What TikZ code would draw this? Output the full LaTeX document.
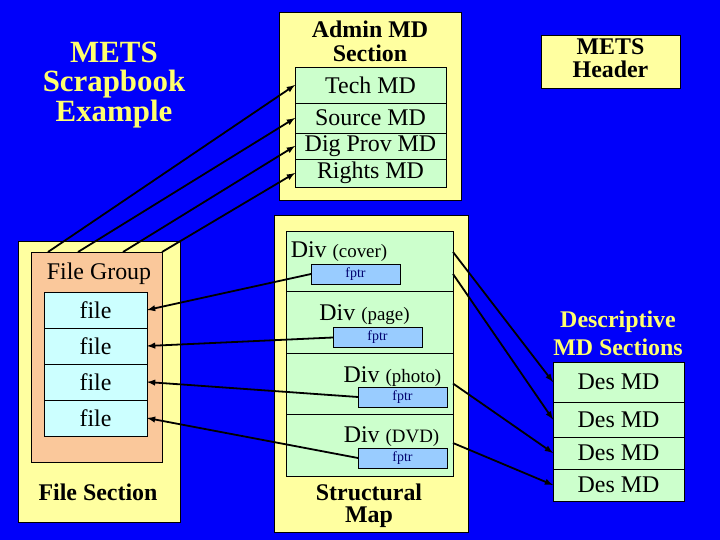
\documentclass[tikz,border=0pt]{standalone}
\usepackage{fontspec}
\setmainfont{Liberation Serif}
\usepackage{tikz}
\usetikzlibrary{arrows}

\definecolor{bgblue}{RGB}{0,0,250}
\definecolor{paleyellow}{RGB}{255,255,160}
\definecolor{titleyellow}{RGB}{255,255,110}
\definecolor{mdgreen}{RGB}{204,255,204}
\definecolor{filecyan}{RGB}{204,255,255}
\definecolor{grouporange}{RGB}{250,200,155}
\definecolor{fptrblue}{RGB}{153,204,255}
\definecolor{fptrtext}{RGB}{0,0,110}

\begin{document}
\begin{tikzpicture}[x=1bp,y=-1bp,
    box/.style={draw=black, line width=0.6bp, inner sep=0pt, outer sep=0pt},
    yellowbox/.style={box, fill=paleyellow},
    greenrow/.style={box, fill=mdgreen, font=\fontsize{24}{26}\selectfont},
    filerow/.style={box, fill=filecyan, minimum width=103bp, minimum height=36bp, font=\fontsize{24}{26}\selectfont},
    fptrbox/.style={box, fill=fptrblue, minimum width=89bp, minimum height=20bp, text=fptrtext, font=\fontsize{14}{15}\selectfont},
    boldlabel/.style={align=center, inner sep=0pt, font=\bfseries\fontsize{24}{23}\selectfont},
    plainlabel/.style={inner sep=0pt, anchor=base, font=\fontsize{24}{26}\selectfont},
    link/.style={line width=1.8bp, draw=black, -latex}]

	% Background
	\fill[bgblue] (0,0) rectangle (720,540);
	\useasboundingbox (0,0) rectangle (720,540);

	% Title
	\node[align=center, inner sep=0pt, text=titleyellow, font=\bfseries\fontsize{31}{30}\selectfont] (title) at (114,85) {METS\\Scrapbook\\Example};

	% Admin MD section
	\node[yellowbox, minimum width=182bp, minimum height=188bp] (adminsec) at (370,106) {};
	\node[boldlabel, font=\bfseries\fontsize{24}{24}\selectfont] (adminlabel) at (370,41) {Admin MD\\Section};
	\node[greenrow, minimum width=151bp, minimum height=36bp] (techmd) at (370.5,85) {Tech MD};
	\node[greenrow, minimum width=151bp, minimum height=30bp] (sourcemd) at (370.5,118) {Source MD};
	\node[greenrow, minimum width=151bp, minimum height=26bp] (digprovmd) at (370.5,146) {Dig Prov MD};
	\node[greenrow, minimum width=151bp, minimum height=28bp] (rightsmd) at (370.5,173) {Rights MD};

	% METS header
	\node[yellowbox, minimum width=139bp, minimum height=53bp] (header) at (610.5,61.5) {};
	\node[boldlabel] (headerlabel) at (610.5,58.5) {METS\\Header};

	% File section
	\node[yellowbox, minimum width=162bp, minimum height=281bp] (filesec) at (99,381.5) {};
	\node[box, fill=grouporange, minimum width=131bp, minimum height=210bp] (filegroup) at (96.5,357) {};
	\node[plainlabel] (grouplabel) at (99,280) {File Group};
	\foreach \i/\y in {1/310,2/346,3/382,4/418}
		\node[filerow] (file\i) at (95.5,\y) {file};
	\node[boldlabel, anchor=base] (filesecl) at (98,500) {File Section};

	% Structural map
	\node[yellowbox, minimum width=194bp, minimum height=317bp] (structmap) at (371,373.5) {};
	\node[greenrow, minimum width=167bp, minimum height=60bp] (divcover) at (369.5,261) {};
	\node[greenrow, minimum width=167bp, minimum height=62bp] (divpage) at (369.5,322) {};
	\node[greenrow, minimum width=167bp, minimum height=61bp] (divphoto) at (369.5,383.5) {};
	\node[greenrow, minimum width=167bp, minimum height=62bp] (divdvd) at (369.5,445) {};
	\node[plainlabel] (coverlabel) at (339,258) {Div {\fontsize{19}{21}\selectfont(cover)}};
	\node[plainlabel] (pagelabel) at (364.5,320) {Div {\fontsize{19}{21}\selectfont(page)}};
	\node[plainlabel] (photolabel) at (392.5,382) {Div {\fontsize{19}{21}\selectfont(photo)}};
	\node[plainlabel] (dvdlabel) at (391.5,442) {Div {\fontsize{19}{21}\selectfont(DVD)}};
	\node[fptrbox] (fptrcover) at (355.5,274) {fptr};
	\node[fptrbox] (fptrpage) at (377.5,337.5) {fptr};
	\node[fptrbox] (fptrphoto) at (402.5,397) {fptr};
	\node[fptrbox] (fptrdvd) at (402.5,458) {fptr};
	\node[boldlabel, font=\bfseries\fontsize{24}{22}\selectfont] (structlabel) at (369,505.5) {Structural\\Map};

	% Descriptive MD sections
	\node[boldlabel, text=titleyellow, font=\bfseries\fontsize{24}{28}\selectfont] (deslabel) at (618,333) {Descriptive\\MD Sections};
	\node[greenrow, minimum width=131bp, minimum height=40bp] (desmd1) at (618.5,382) {Des MD};
	\node[greenrow, minimum width=131bp, minimum height=35bp] (desmd2) at (618.5,419.5) {Des MD};
	\node[greenrow, minimum width=131bp, minimum height=32bp] (desmd3) at (618.5,453) {Des MD};
	\node[greenrow, minimum width=131bp, minimum height=32bp] (desmd4) at (618.5,485) {Des MD};

	% Admin MD pointers
	\draw[link] ([xshift=17bp]filegroup.north west) -- (techmd.west);
	\draw[link] ([xshift=47bp]filegroup.north west) -- (sourcemd.west);
	\draw[link] ([xshift=92bp]filegroup.north west) -- (digprovmd.west);
	\draw[link] (filegroup.north east) -- (rightsmd.west);

	% File pointers
	\draw[link] (fptrcover.west) -- (file1.east);
	\draw[link] (fptrpage.west) -- (file2.east);
	\draw[link] (fptrphoto.west) -- (file3.east);
	\draw[link] (fptrdvd.west) -- (file4.east);

	% Descriptive MD pointers
	\draw[link] ([yshift=9bp]divcover.east) -- (desmd1.west);
	\draw[link] ([yshift=-13bp]divcover.east) -- (desmd2.west);
	\draw[link] (divphoto.east) -- (desmd3.west);
	\draw[link] ([yshift=2bp]divdvd.east) -- (desmd4.west);
\end{tikzpicture}
\end{document}
